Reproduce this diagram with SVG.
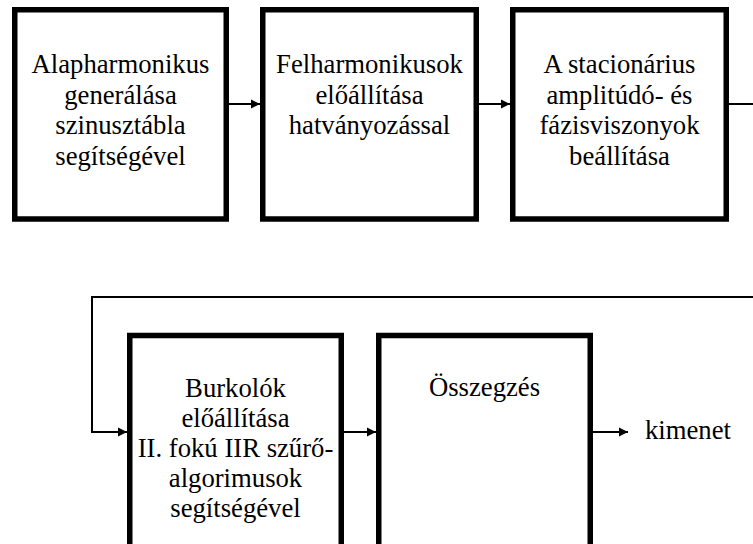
<svg xmlns="http://www.w3.org/2000/svg" width="753" height="544" viewBox="0 0 753 544">
  <style>
    .box { fill: #ffffff; stroke: #000000; stroke-width: 5.5; }
    .wire { fill: none; stroke: #000000; stroke-width: 2; }
    .label { font-family: "Liberation Serif", "Times New Roman", serif; font-size: 26.7px; fill: #000000; text-anchor: middle; }
  </style>
  <defs>
    <marker id="arrow" viewBox="0 0 10 10" refX="10" refY="5" markerWidth="9" markerHeight="11" markerUnits="userSpaceOnUse" orient="auto">
      <path d="M0,0 L10,5 L0,10 Z" fill="#000000"/>
    </marker>
  </defs>
  <rect width="753" height="544" fill="#ffffff"/>

  <g id="connectors">
    <line class="wire" x1="229" y1="104" x2="260" y2="104" marker-end="url(#arrow)"/>
    <line class="wire" x1="479" y1="104" x2="510" y2="104" marker-end="url(#arrow)"/>
    <polyline class="wire" points="729,104 753,104"/>
    <polyline class="wire" points="753,297 92,297 92,432 127,432" marker-end="url(#arrow)"/>
    <line class="wire" x1="344" y1="432" x2="376" y2="432" marker-end="url(#arrow)"/>
    <line class="wire" x1="593" y1="432" x2="628" y2="432" marker-end="url(#arrow)"/>
  </g>

  <g id="alapharmonikus">
    <rect class="box" x="14.75" y="9.75" width="211.5" height="209.25"/>
    <text class="label" x="120.5" y="73">Alapharmonikus</text>
    <text class="label" x="120.5" y="103.5">generálása</text>
    <text class="label" x="120.5" y="134">szinusztábla</text>
    <text class="label" x="120.5" y="164.5">segítségével</text>
  </g>

  <g id="felharmonikusok">
    <rect class="box" x="262.75" y="9.75" width="213.5" height="209.25"/>
    <text class="label" x="369.5" y="73">Felharmonikusok</text>
    <text class="label" x="369.5" y="103.5">előállítása</text>
    <text class="label" x="369.5" y="134">hatványozással</text>
  </g>

  <g id="stacionarius">
    <rect class="box" x="512.75" y="9.75" width="213.5" height="209.25"/>
    <text class="label" x="619.5" y="73">A stacionárius</text>
    <text class="label" x="619.5" y="103.5">amplitúdó- és</text>
    <text class="label" x="619.5" y="134">fázisviszonyok</text>
    <text class="label" x="619.5" y="164.5">beállítása</text>
  </g>

  <g id="burkolok">
    <rect class="box" x="129.75" y="335.5" width="211.5" height="230"/>
    <text class="label" x="235.5" y="397">Burkolók</text>
    <text class="label" x="235.5" y="427">előállítása</text>
    <text class="label" x="235.5" y="457">II. fokú IIR szűrő-</text>
    <text class="label" x="235.5" y="487">algorimusok</text>
    <text class="label" x="235.5" y="517">segítségével</text>
  </g>

  <g id="osszegzes">
    <rect class="box" x="378.75" y="335.5" width="211.5" height="230"/>
    <text class="label" x="484.5" y="396">Összegzés</text>
  </g>

  <g id="kimenet">
    <text class="label" x="645" y="439" text-anchor="start" style="text-anchor:start">kimenet</text>
  </g>
</svg>
